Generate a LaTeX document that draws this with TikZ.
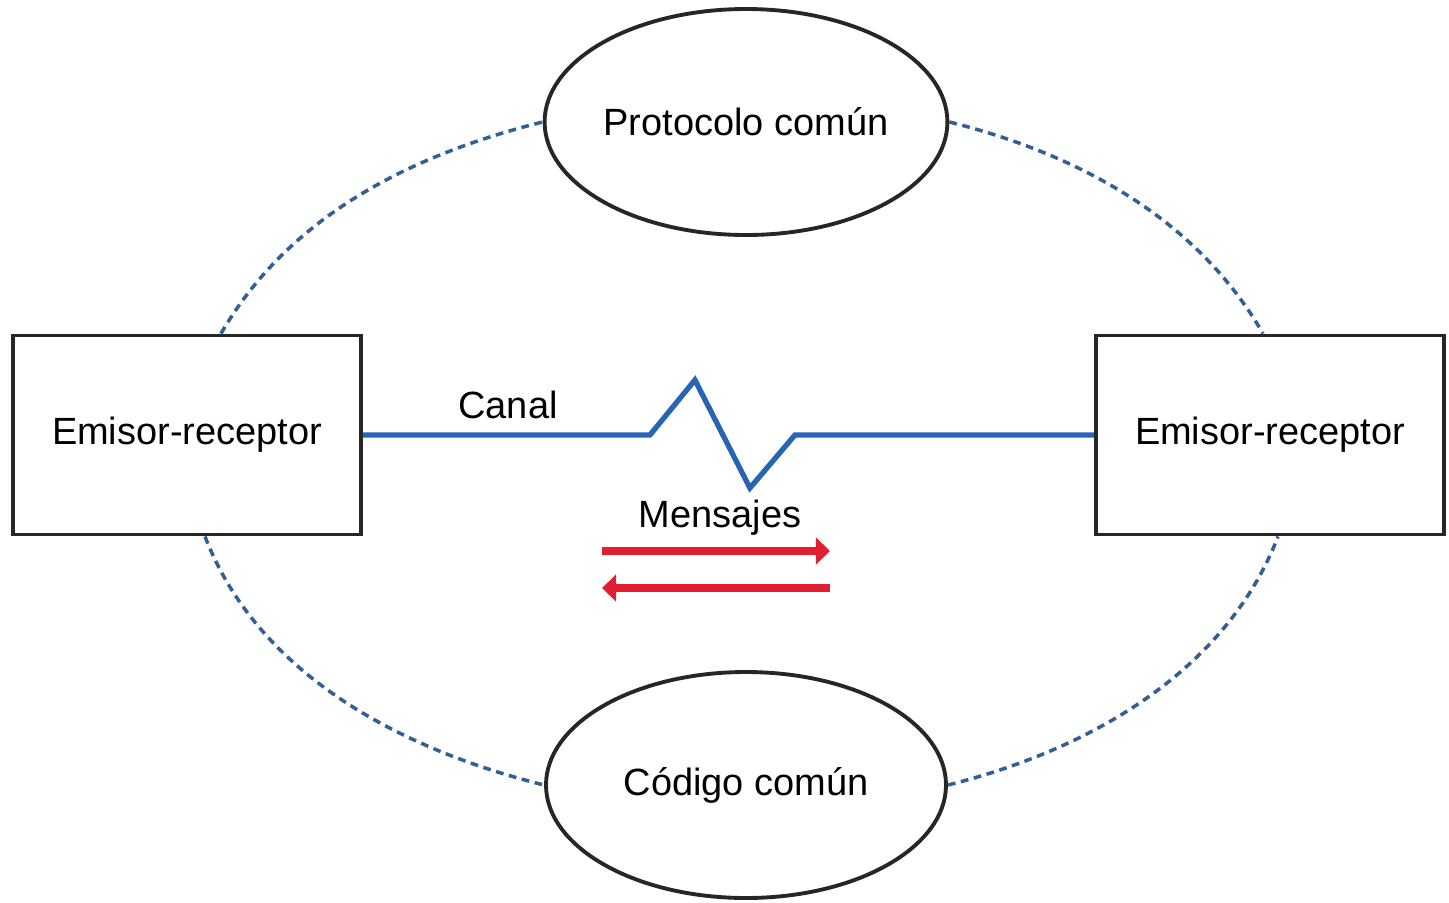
\documentclass[tikz,border=0pt]{standalone}
\usepackage{fontspec}
\setmainfont{Liberation Sans}
\usetikzlibrary{arrows.meta, shapes.geometric}
\definecolor{canalblue}{RGB}{40,100,180}
\definecolor{linkblue}{RGB}{50,95,150}
\definecolor{msgred}{RGB}{225,30,50}

\begin{document}
\begin{tikzpicture}[
    every node/.style={font=\fontsize{10.8}{13}\selectfont},
    station/.style={draw=black!85, line width=1.1pt, minimum width=3.48cm, minimum height=1.99cm, inner sep=0pt},
    common/.style={ellipse, draw=black!85, line width=1.1pt, minimum width=4cm, minimum height=2.26cm, inner sep=0pt},
    link/.style={linkblue, line width=1pt, dash pattern=on 2.2pt off 1.6pt, looseness=0.9},
    canal/.style={canalblue, line width=1.5pt},
    msg/.style={msgred, line width=2.1pt, -{Triangle[length=4pt, width=7.5pt]}}
]
    \useasboundingbox (0,0) rectangle (14.49,9.02);

    % Stations
    \node[station] (left) at (1.87, 4.67) {Emisor-receptor};
    \node[station] (right) at (12.70, 4.67) {Emisor-receptor};

    % Shared protocol and code
    \node[common] (proto) at (7.46, 7.80) {Protocolo común};
    \node[common] (code) at (7.46, 1.17) {Código común};

    % Channel with noise
    \draw[canal] (left.east) -- ++(2.87, 0) -- ++(0.45, 0.55) -- ++(0.55, -1.08) -- ++(0.45, 0.53) -- (right.west);
    \node (canallbl) at (5.08, 4.97) {Canal};

    % Messages in both directions
    \node (msglbl) at (7.20, 3.84) {Mensajes};
    \coordinate (sendA) at (6.02, 3.51);
    \coordinate (sendB) at (8.30, 3.51);
    \coordinate (backA) at (8.30, 3.14);
    \coordinate (backB) at (6.02, 3.14);
    \draw[msg] (sendA) -- (sendB);
    \draw[msg] (backA) -- (backB);

    % Dotted links
    \draw[link] ([xshift=0.34cm]left.north) to[out=60, in=194] (proto.west);
    \draw[link] (proto.east) to[out=-14, in=120] ([xshift=-0.07cm]right.north);
    \draw[link] ([xshift=0.18cm]left.south) to[out=-69, in=166] (code.west);
    \draw[link] (code.east) to[out=14, in=-111] ([xshift=0.08cm]right.south);
\end{tikzpicture}
\end{document}
